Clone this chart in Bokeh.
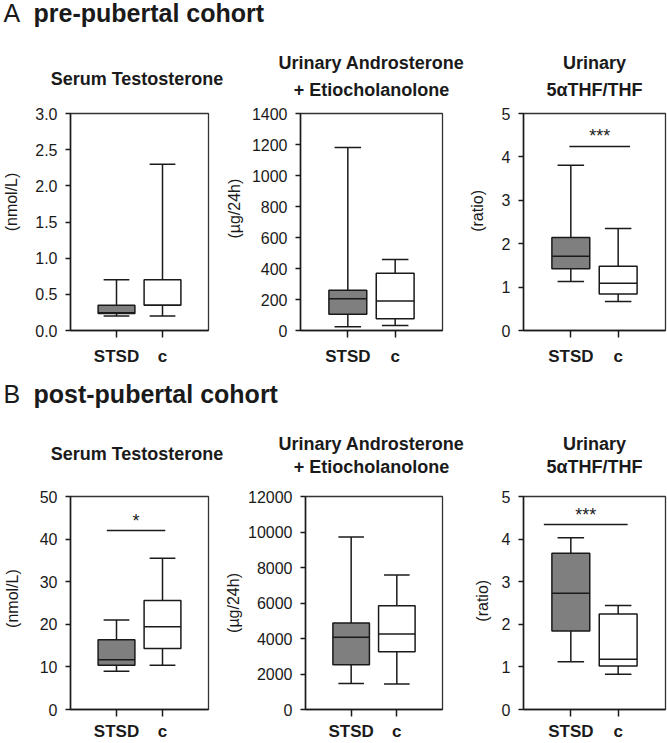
import numpy as np
from bokeh.plotting import figure
from bokeh.models import Range1d, FixedTicker, Label, NumeralTickFormatter, ColumnDataSource
from bokeh.layouts import column, row
from bokeh.embed import file_html
from bokeh.resources import INLINE
from bokeh.core.properties import value

# ---------------- data ----------------
groups = ["STSD", "c"]
group_fill = ["#7f7f7f", "#ffffff"]

panel_titles = [["Serum Testosterone"],
                ["Urinary Androsterone", "+ Etiocholanolone"],
                ["Urinary", "5\u03b1THF/THF"]]
y_labels = ["(nmol/L)", "(\u00b5g/24h)", "(ratio)"]
section_letters = ["A", "B"]
section_titles = ["pre-pubertal cohort", "post-pubertal cohort"]

# five-number summaries: [low whisker, Q1, median, Q3, high whisker]
pre_testo_stsd = [0.20, 0.235, 0.245, 0.35, 0.70]
pre_testo_c = [0.20, 0.35, 0.35, 0.70, 2.30]
pre_andro_stsd = [25, 105, 205, 260, 1180]
pre_andro_c = [33, 76, 190, 370, 458]
pre_thf_stsd = [1.13, 1.42, 1.71, 2.14, 3.81]
pre_thf_c = [0.67, 0.84, 1.09, 1.48, 2.35]

post_testo_stsd = [9.0, 10.4, 11.7, 16.4, 21.0]
post_testo_c = [10.4, 14.3, 19.4, 25.6, 35.5]
post_andro_stsd = [1460, 2520, 4070, 4870, 9720]
post_andro_c = [1430, 3260, 4260, 5850, 7580]
post_thf_stsd = [1.12, 1.84, 2.73, 3.67, 4.03]
post_thf_c = [0.83, 1.02, 1.18, 2.24, 2.44]

pre_ymax = [3.0, 1400, 5]
pre_ystep = [0.5, 200, 1]
post_ymax = [50, 12000, 5]
post_ystep = [10, 2000, 1]

# significance bars: (x start, x end, y, label)
pre_sig = [None, None, (0.97, 2.25, 4.24, "***")]
post_sig = [(0.79, 2.06, 42.0, "*"), None, (0.43, 2.20, 4.34, "***")]

# ---------------- layout geometry (pixels) ----------------
FONT = "Liberation Sans"
INK = "#1a1a1a"
W = 667
COLS = [(65, 143, 14), (78, 142, 10), (71, 142, 2)]  # min_border_left, frame width, min_border_right
TITLE_X = [136.5, 371, 594]
# header strips: height, section-title centre, single-line title centre, two-line centres (from strip top)
HDR_A = dict(h=100, sec=12, single=78, double=(62, 89))
HDR_B = dict(h=103, sec=18, single=78, double=(68, 91))
# ylab_pad: leading no-break spaces that lift the rotated axis label as in the original
ROW_A = dict(mt=13, fh=217, mb=45, xstand=9, ylab_standoff=[12, 6, 13], ylab_pad=[9, 6, 5])
ROW_B = dict(mt=18, fh=215, mb=32, xstand=5, ylab_standoff=[16, 3, 8], ylab_pad=[2, 0, 1])


def make_panel(ci, rg, stsd, ctl, ymax, ystep, sig, fmt):
    ml, fw, mr = COLS[ci]
    p = figure(width=ml + fw + mr, height=rg["mt"] + rg["fh"] + rg["mb"],
               x_range=Range1d(0, 3), y_range=Range1d(0, ymax),
               min_border_left=ml, min_border_right=mr,
               min_border_top=rg["mt"], min_border_bottom=rg["mb"],
               title_location=None,
               output_backend="svg", toolbar_location=None, tools="")
    p.xgrid.visible = False
    p.ygrid.visible = False
    p.outline_line_color = "#333333"
    p.outline_line_width = 1.3
    p.background_fill_color = "white"
    p.border_fill_color = "white"

    stats = [stsd, ctl]
    xs = [i + 1 for i in range(len(groups))]
    half = 0.4
    cap = 0.28
    src = ColumnDataSource(dict(
        x=xs,
        lo=[s[0] for s in stats], q1=[s[1] for s in stats], med=[s[2] for s in stats],
        q3=[s[3] for s in stats], hi=[s[4] for s in stats],
        bl=[x - half for x in xs], br=[x + half for x in xs],
        cl=[x - cap for x in xs], cr=[x + cap for x in xs],
        fill=group_fill,
    ))
    p.segment(x0="x", y0="q3", x1="x", y1="hi", source=src, line_color=INK, line_width=1.5)
    p.segment(x0="x", y0="lo", x1="x", y1="q1", source=src, line_color=INK, line_width=1.5)
    p.segment(x0="cl", y0="hi", x1="cr", y1="hi", source=src, line_color=INK, line_width=1.5)
    p.segment(x0="cl", y0="lo", x1="cr", y1="lo", source=src, line_color=INK, line_width=1.5)
    p.vbar(x="x", width=2 * half, bottom="q1", top="q3", fill_color="fill",
           line_color=INK, line_width=1.5, source=src)
    p.segment(x0="bl", y0="med", x1="br", y1="med", source=src, line_color=INK, line_width=1.5)

    if sig is not None:
        x0, x1, y, lab = sig
        ssrc = ColumnDataSource(dict(x0=[x0], x1=[x1], y=[y], xm=[(x0 + x1) / 2], t=[lab]))
        p.segment(x0="x0", y0="y", x1="x1", y1="y", source=ssrc, line_color=INK, line_width=1.5)
        p.text(x="xm", y="y", text="t", source=ssrc, text_align="center",
               text_baseline="alphabetic", y_offset=-10, text_font=value(FONT),
               text_font_size="18px", text_color=INK)

    # y axis
    yax = p.yaxis[0]
    yax.ticker = FixedTicker(ticks=list(np.arange(0, ymax + ystep / 2, ystep)))
    yax.formatter = NumeralTickFormatter(format=fmt)
    yax.minor_tick_line_color = None
    yax.major_tick_in = 0
    yax.major_tick_out = 5
    yax.major_label_standoff = 8
    yax.major_label_text_font = FONT
    yax.major_label_text_font_size = "16px"
    yax.major_label_text_color = INK
    yax.axis_line_width = 1.5
    yax.axis_line_color = INK
    yax.major_tick_line_width = 1.5
    yax.major_tick_line_color = INK
    yax.axis_label = "\u00a0" * rg["ylab_pad"][ci] + y_labels[ci]
    yax.axis_label_text_font = FONT
    yax.axis_label_text_font_style = "normal"
    yax.axis_label_text_font_size = "16px"
    yax.axis_label_text_color = INK
    yax.axis_label_standoff = rg["ylab_standoff"][ci]

    # x axis
    xax = p.xaxis[0]
    xax.ticker = FixedTicker(ticks=xs)
    xax.major_label_overrides = {x: g for x, g in zip(xs, groups)}
    xax.minor_tick_line_color = None
    xax.major_tick_in = 0
    xax.major_tick_out = 7
    xax.major_label_standoff = rg["xstand"]
    xax.major_label_text_font = FONT
    xax.major_label_text_font_style = "bold"
    xax.major_label_text_font_size = "17px"
    xax.major_label_text_color = INK
    xax.axis_line_width = 1.5
    xax.axis_line_color = INK
    xax.major_tick_line_width = 1.5
    xax.major_tick_line_color = INK
    return p


def header(si, hg):
    h = hg["h"]
    p = figure(width=W, height=h, x_range=Range1d(0, W), y_range=Range1d(0, h),
               min_border=0, x_axis_location=None, y_axis_location=None, title_location=None,
               output_backend="svg", toolbar_location=None, tools="")
    p.outline_line_color = None
    p.xgrid.visible = False
    p.ygrid.visible = False
    p.background_fill_color = "white"
    p.border_fill_color = "white"
    ys = h - hg["sec"]
    p.add_layout(Label(x=3, y=ys, text=section_letters[si], text_baseline="middle",
                       text_font=FONT, text_font_size="25px", text_color=INK))
    p.add_layout(Label(x=33, y=ys, text=section_titles[si], text_baseline="middle",
                       text_font=FONT, text_font_style="bold", text_font_size="25px",
                       text_color=INK))
    for ci, lines in enumerate(panel_titles):
        cents = [hg["single"]] if len(lines) == 1 else list(hg["double"])
        for txt, cy in zip(lines, cents):
            p.add_layout(Label(x=TITLE_X[ci], y=h - cy, text=txt, text_align="center",
                               text_baseline="middle", text_font=FONT,
                               text_font_style="bold", text_font_size="18px",
                               text_color=INK))
    return p


pre_sets = [(pre_testo_stsd, pre_testo_c), (pre_andro_stsd, pre_andro_c), (pre_thf_stsd, pre_thf_c)]
post_sets = [(post_testo_stsd, post_testo_c), (post_andro_stsd, post_andro_c), (post_thf_stsd, post_thf_c)]
fmts = ["0.0", "0", "0"]

row_a = row([make_panel(i, ROW_A, pre_sets[i][0], pre_sets[i][1], pre_ymax[i], pre_ystep[i],
                        pre_sig[i], fmts[i]) for i in range(3)])
row_b = row([make_panel(i, ROW_B, post_sets[i][0], post_sets[i][1], post_ymax[i], post_ystep[i],
                        post_sig[i], "0") for i in range(3)])

layout = column([header(0, HDR_A), row_a, header(1, HDR_B), row_b])

with open("out.html", "w") as f:
    f.write(file_html(layout, INLINE))
